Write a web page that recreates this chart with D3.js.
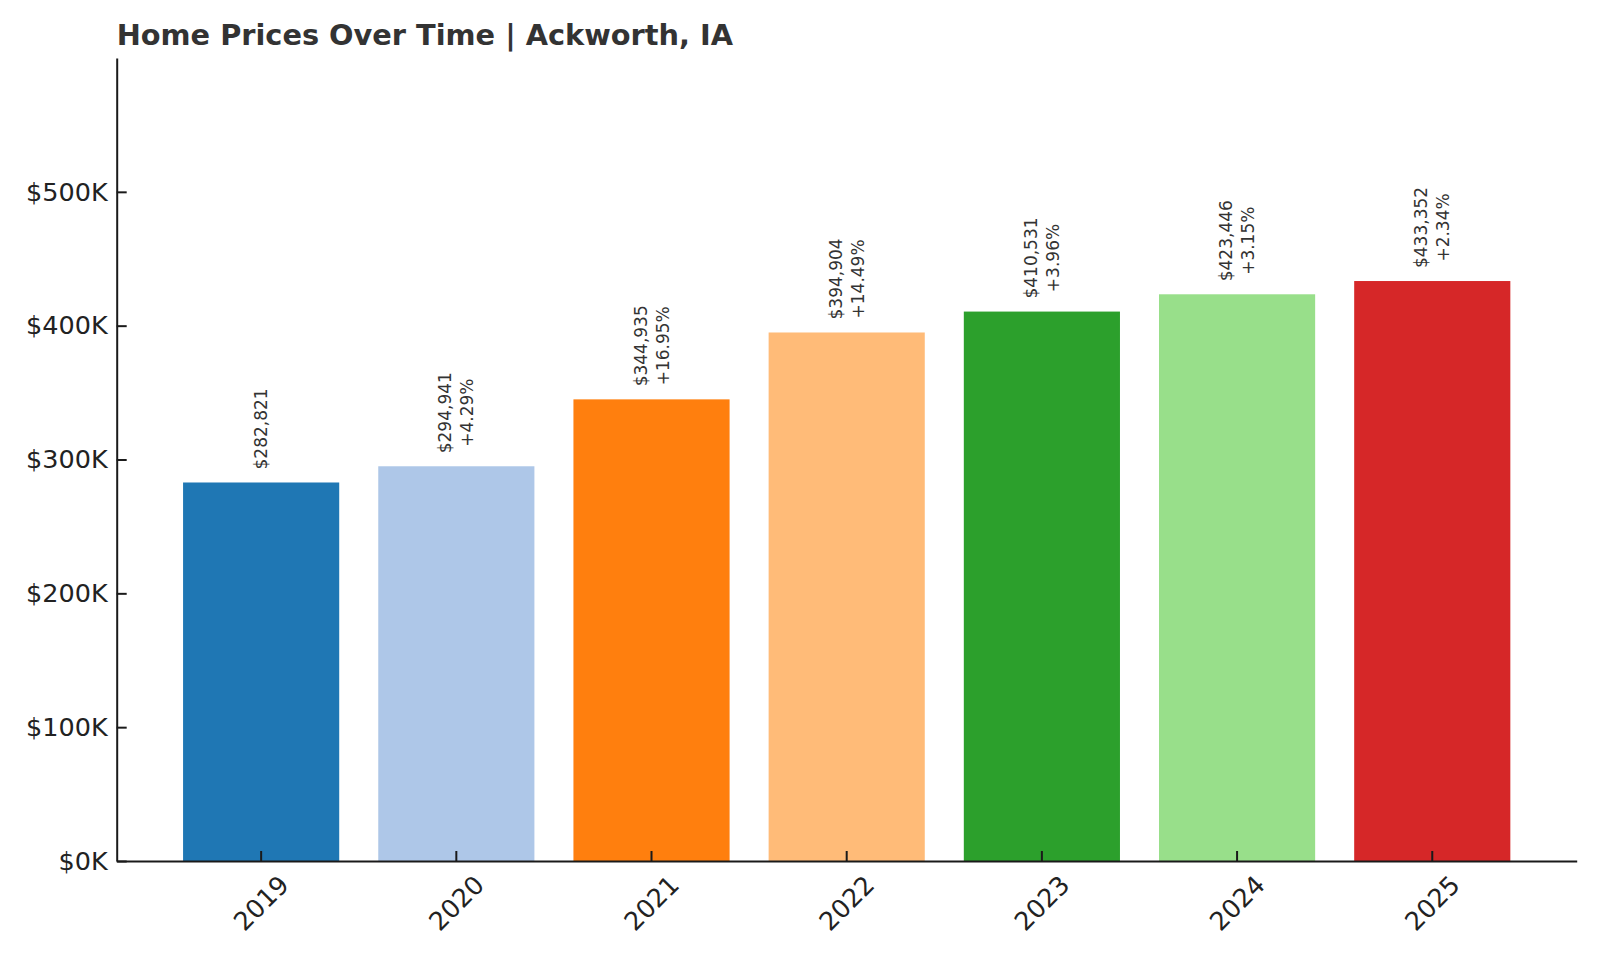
<!DOCTYPE html>
<html>
<head>
<meta charset="utf-8">
<script src="https://cdn.jsdelivr.net/npm/d3@7"></script>
<style>
  body { margin: 0; background: #fff; }
  text { font-family: "DejaVu Sans", sans-serif; }
</style>
</head>
<body>
<div id="chart"></div>
<script>
// Data
const years = ['2019', '2020', '2021', '2022', '2023', '2024', '2025'];
const prices = [282821, 294941, 344935, 394904, 410531, 423446, 433352];
const changes = [null, '+4.29%', '+16.95%', '+14.49%', '+3.96%', '+3.15%', '+2.34%'];
const barColors = ['#1f77b4', '#aec7e8', '#ff7f0e', '#ffbb78', '#2ca02c', '#98df8a', '#d62728'];
const yTicks = [0, 100000, 200000, 300000, 400000, 500000];

const width = 1600;
const height = 960;
const margin = { top: 58, right: 23.3, bottom: 99, left: 116.7 };

const svg = d3.select('#chart').append('svg')
    .attr('width', width)
    .attr('height', height);

const x = d3.scaleBand()
    .domain(years)
    .range([margin.left, width - margin.right])
    .paddingInner(0.2)
    .paddingOuter(0.34);

const y = d3.scaleLinear()
    .domain([0, 600000])
    .range([height - margin.bottom, margin.top]);

// Bars
svg.append('g')
    .selectAll('rect')
    .data(years)
    .join('rect')
    .attr('x', d => x(d))
    .attr('y', (d, i) => y(prices[i]))
    .attr('width', x.bandwidth())
    .attr('height', (d, i) => y(0) - y(prices[i]))
    .attr('fill', (d, i) => barColors[i]);

// Value labels, rotated, one or two lines centred on the bar
const fmt = d3.format(',');
const lineGap = 22;
years.forEach((yr, i) => {
    const lines = ['$' + fmt(prices[i])];
    if (changes[i]) lines.push(changes[i]);

    const cx = x(yr) + x.bandwidth() / 2;
    const base = y(prices[i]) - 13;

    const g = svg.append('g')
        .attr('transform', `translate(${cx}, ${base}) rotate(-90)`);

    const texts = lines.map((s, j) => g.append('text')
        .attr('y', (j - (lines.length - 1) / 2) * lineGap)
        .attr('dominant-baseline', 'central')
        .attr('text-anchor', 'middle')
        .attr('font-size', '17px')
        .attr('fill', '#333')
        .text(s));

    const maxLen = d3.max(texts, t => t.node().getComputedTextLength());
    texts.forEach(t => t.attr('x', maxLen / 2));
});

// Y axis
const yAxis = svg.append('g')
    .attr('transform', `translate(${margin.left}, 0)`)
    .call(d3.axisLeft(y)
        .tickValues(yTicks)
        .tickFormat(d => `$${d / 1000}K`)
        .tickSizeInner(-10)
        .tickSizeOuter(0)
        .tickPadding(9));

yAxis.selectAll('text')
    .attr('font-size', '25.5px')
    .attr('fill', '#222');

// X axis
const xAxis = svg.append('g')
    .attr('transform', `translate(0, ${height - margin.bottom})`)
    .call(d3.axisBottom(x)
        .tickSizeInner(-10)
        .tickSizeOuter(0));

xAxis.selectAll('text')
    .attr('font-size', '25.5px')
    .attr('fill', '#222')
    .attr('y', 0)
    .attr('dy', null)
    .attr('dominant-baseline', 'central')
    .attr('text-anchor', 'middle')
    .attr('transform', 'translate(0, 42) rotate(-45)');

svg.selectAll('.domain, .tick line')
    .attr('stroke', '#1a1a1a')
    .attr('stroke-width', 2);

// Title
svg.append('text')
    .attr('x', margin.left)
    .attr('y', 45)
    .attr('font-size', '28.8px')
    .attr('font-weight', 'bold')
    .attr('fill', '#333')
    .text('Home Prices Over Time | Ackworth, IA');
</script>
</body>
</html>
